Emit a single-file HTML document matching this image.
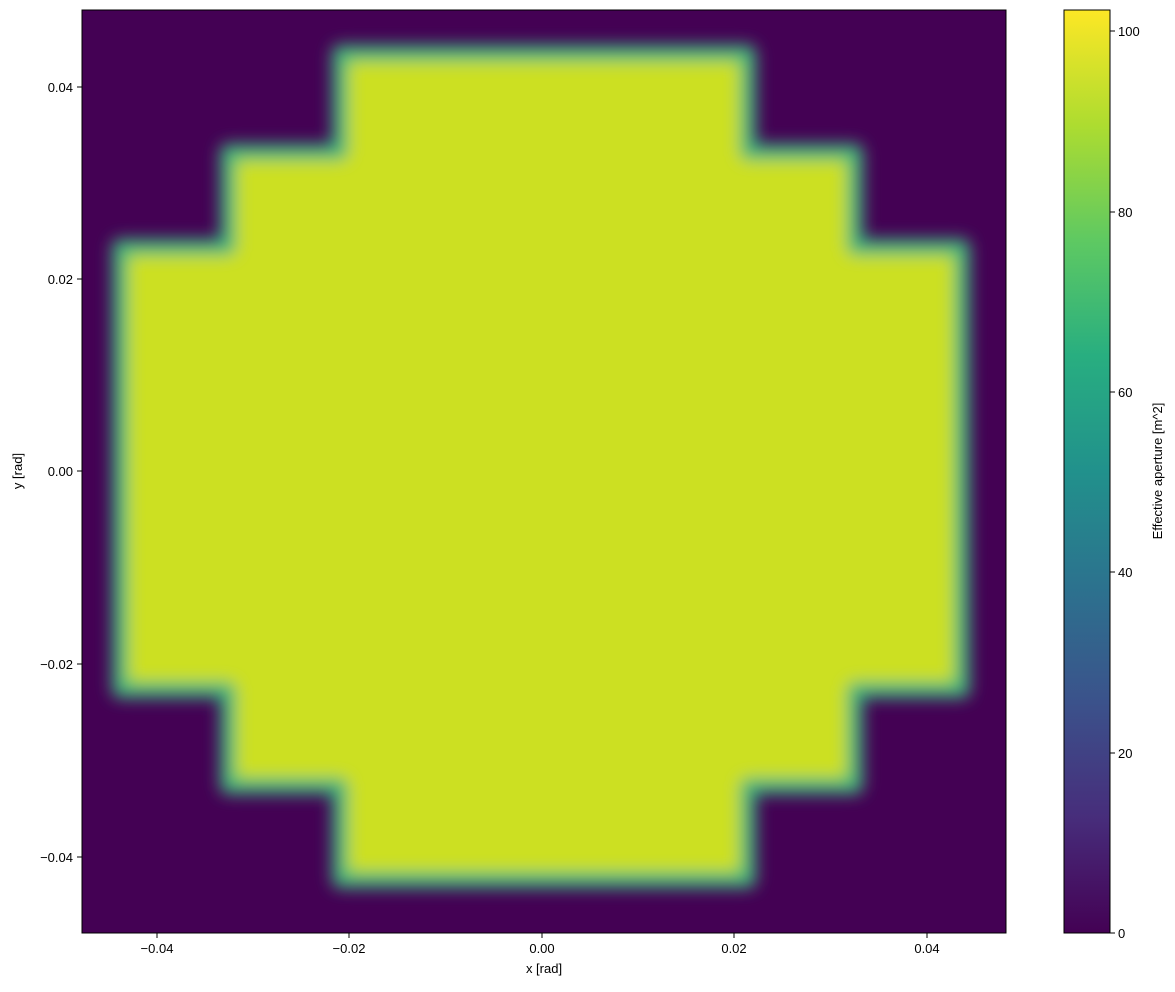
<!DOCTYPE html>
<html><head><meta charset="utf-8"><style>
body{margin:0;background:#fff;width:1175px;height:987px;overflow:hidden;font-family:"Liberation Sans",sans-serif;}
</style></head><body>
<svg width="1175" height="987" xmlns="http://www.w3.org/2000/svg" font-family="Liberation Sans, sans-serif" font-size="13" fill="#000">
<defs>
<filter id="b" x="-10%" y="-10%" width="120%" height="120%"><feGaussianBlur stdDeviation="8"/></filter>
<linearGradient id="vir" x1="0" y1="1" x2="0" y2="0">
<stop offset="0" stop-color="#440154"/><stop offset="0.125" stop-color="#472d7b"/><stop offset="0.25" stop-color="#3b528b"/><stop offset="0.375" stop-color="#2c728e"/><stop offset="0.5" stop-color="#21918c"/><stop offset="0.625" stop-color="#28ae80"/><stop offset="0.75" stop-color="#5ec962"/><stop offset="0.875" stop-color="#addc30"/><stop offset="1" stop-color="#fde725"/>
</linearGradient>
<clipPath id="c"><rect x="82" y="10" width="924" height="923"/></clipPath>
</defs>
<rect x="82" y="10" width="924" height="923" fill="#440154"/>
<g clip-path="url(#c)"><g filter="url(#b)">
<polygon points="340,53 748,53 748,152 855,152 855,247 962,247 962,690 855,690 855,786 748,786 748,880 340,880 340,786 228,786 228,690 120,690 120,247 228,247 228,152 340,152" fill="#cce024" stroke="#3db57a" stroke-width="16" stroke-linejoin="round"/>
</g></g>
<rect x="82" y="10" width="924" height="923" fill="none" stroke="#000" stroke-width="1"/>
<g stroke="#000">
<line x1="157" y1="933" x2="157" y2="938"/><line x1="349" y1="933" x2="349" y2="938"/><line x1="542" y1="933" x2="542" y2="938"/><line x1="734" y1="933" x2="734" y2="938"/><line x1="927" y1="933" x2="927" y2="938"/>
<line x1="82" y1="87" x2="77" y2="87"/><line x1="82" y1="279" x2="77" y2="279"/><line x1="82" y1="471" x2="77" y2="471"/><line x1="82" y1="664" x2="77" y2="664"/><line x1="82" y1="857" x2="77" y2="857"/>
</g>
<g text-anchor="middle">
<text x="157" y="953">−0.04</text><text x="349" y="953">−0.02</text><text x="542" y="953">0.00</text><text x="734" y="953">0.02</text><text x="927" y="953">0.04</text>
<text x="544" y="973">x [rad]</text>
</g>
<g text-anchor="end">
<text x="73" y="92">0.04</text><text x="73" y="284">0.02</text><text x="73" y="476">0.00</text><text x="73" y="669">−0.02</text><text x="73" y="862">−0.04</text>
</g>
<text transform="translate(22,471) rotate(-90)" text-anchor="middle">y [rad]</text>
<rect x="1064" y="10" width="46" height="923" fill="url(#vir)" stroke="#000" stroke-width="1"/>
<g stroke="#000">
<line x1="1110" y1="933" x2="1115" y2="933"/><line x1="1110" y1="753" x2="1115" y2="753"/><line x1="1110" y1="572" x2="1115" y2="572"/><line x1="1110" y1="392" x2="1115" y2="392"/><line x1="1110" y1="212" x2="1115" y2="212"/><line x1="1110" y1="31" x2="1115" y2="31"/>
</g>
<g>
<text x="1118" y="938">0</text><text x="1118" y="758">20</text><text x="1118" y="577">40</text><text x="1118" y="397">60</text><text x="1118" y="217">80</text><text x="1118" y="36">100</text>
</g>
<text transform="translate(1162,471) rotate(-90)" text-anchor="middle">Effective aperture [m^2]</text>
</svg>
</body></html>
